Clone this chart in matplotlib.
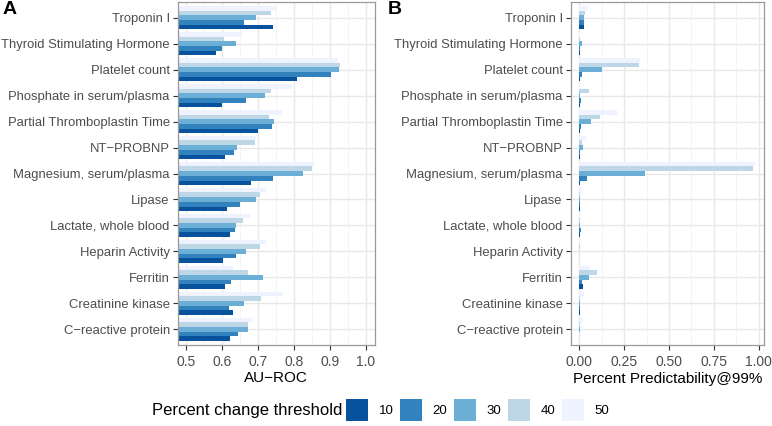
import matplotlib
matplotlib.use("Agg")
import matplotlib.pyplot as plt
import numpy as np
from matplotlib.patches import Patch

plt.rcParams['font.family'] = ['Liberation Sans', 'DejaVu Sans']

# categories from bottom to top
categories = ["C−reactive protein", "Creatinine kinase", "Ferritin", "Heparin Activity",
              "Lactate, whole blood", "Lipase", "Magnesium, serum/plasma", "NT−PROBNP",
              "Partial Thromboplastin Time", "Phosphate in serum/plasma", "Platelet count",
              "Thyroid Stimulating Hormone", "Troponin I"]
thresholds = ["10", "20", "30", "40", "50"]
colors = ["#08519c", "#3182bd", "#6baed6", "#bdd7e7", "#eff3ff"]

# AU-ROC per threshold (same order as categories)
auroc_10 = [0.621, 0.629, 0.607, 0.602, 0.620, 0.613, 0.679, 0.606, 0.699, 0.599, 0.809, 0.583, 0.740]
auroc_20 = [0.643, 0.619, 0.625, 0.639, 0.635, 0.650, 0.741, 0.631, 0.739, 0.666, 0.903, 0.599, 0.660]
auroc_30 = [0.671, 0.661, 0.712, 0.667, 0.637, 0.693, 0.825, 0.641, 0.743, 0.718, 0.926, 0.639, 0.694]
auroc_40 = [0.671, 0.708, 0.671, 0.706, 0.657, 0.704, 0.850, 0.690, 0.731, 0.736, 0.927, 0.605, 0.734]
auroc_50 = [0.682, 0.769, 0.630, 0.722, 0.678, 0.722, 0.854, 0.694, 0.765, 0.794, 0.923, 0.655, 0.750]

# Percent predictability @99%
pred_10 = [0.001, 0.002, 0.018, 0.001, 0.003, 0.002, 0.006, 0.002, 0.002, 0.002, 0.004, 0.002, 0.024]
pred_20 = [0.001, 0.002, 0.013, 0.001, 0.011, 0.003, 0.042, 0.006, 0.011, 0.011, 0.017, 0.004, 0.024]
pred_30 = [0.002, 0.003, 0.052, 0.001, 0.003, 0.004, 0.368, 0.020, 0.066, 0.006, 0.129, 0.013, 0.028]
pred_40 = [0.004, 0.004, 0.100, 0.002, 0.003, 0.006, 0.967, 0.017, 0.116, 0.052, 0.330, 0.002, 0.031]
pred_50 = [0.018, 0.024, 0.060, 0.003, 0.004, 0.013, 0.980, 0.040, 0.212, 0.005, 0.340, 0.002, 0.046]

auroc = [auroc_10, auroc_20, auroc_30, auroc_40, auroc_50]
pred = [pred_10, pred_20, pred_30, pred_40, pred_50]

W, H = 772, 426
fig = plt.figure(figsize=(W / 100, H / 100), dpi=100)

def ax_rect(l, r, t, b):
    return [l / W, 1 - b / H, (r - l) / W, (b - t) / H]

axA = fig.add_axes(ax_rect(177.5, 375, 2, 345))
axB = fig.add_axes(ax_rect(570.5, 764, 2, 345))

y = np.arange(len(categories))
bw = 0.18
offsets = [-0.36, -0.18, 0.0, 0.18, 0.36]

def style(ax, xlim, major, minor, fmt):
    ax.set_xlim(*xlim)
    ax.set_ylim(-0.6, len(categories) - 0.4)
    ax.set_xticks(major)
    ax.set_xticks(minor, minor=True)
    ax.set_xticklabels([fmt.format(v) for v in major])
    ax.set_yticks(y)
    ax.set_yticklabels(categories)
    ax.set_axisbelow(True)
    ax.grid(True, which='major', color='#e8e8e8', lw=1.0)
    ax.grid(True, which='minor', axis='x', color='#f2f2f2', lw=0.6)
    ax.tick_params(axis='both', which='major', length=3.5, width=0.8, color='#333333',
                   labelcolor='#4d4d4d')
    ax.tick_params(axis='y', labelsize=9.4, pad=2)
    ax.tick_params(axis='x', labelsize=10, pad=3.5)
    ax.tick_params(axis='x', which='minor', length=0)
    for s in ax.spines.values():
        s.set_color('#9a9a9a')
        s.set_linewidth(0.9)

for i in range(5):
    axA.barh(y + offsets[i], auroc[i], height=bw, color=colors[i], left=0, linewidth=0)
    axB.barh(y + offsets[i], pred[i], height=bw, color=colors[i], linewidth=0)

style(axA, (0.475, 1.025), [0.5, 0.6, 0.7, 0.8, 0.9, 1.0],
      [0.55, 0.65, 0.75, 0.85, 0.95], "{:.1f}")
style(axB, (-0.049, 1.029), [0.0, 0.25, 0.5, 0.75, 1.0],
      [0.125, 0.375, 0.625, 0.875], "{:.2f}")

axA.set_xlabel("AU−ROC", fontsize=11, labelpad=2)
axB.set_xlabel("Percent Predictability@99%", fontsize=11, labelpad=2)

fig.text(3 / W, 1 - 10 / H, "A", fontsize=14, fontweight='bold', va='center', ha='left')
fig.text(388 / W, 1 - 10 / H, "B", fontsize=14, fontweight='bold', va='center', ha='left')

# legend
fig.text(152 / W, 1 - 410 / H, "Percent change threshold", fontsize=12, va='center', ha='left')
handles = [Patch(facecolor=c, edgecolor='none') for c in colors]
fig.legend(handles, thresholds, ncol=5, loc='center left',
           bbox_to_anchor=(346 / W, 1 - 410 / H), frameon=False,
           fontsize=9.5, handlelength=1.67, handleheight=2.2, handletextpad=0.8,
           columnspacing=0.5, borderaxespad=0, borderpad=0)

fig.savefig("out.png", dpi=100)
